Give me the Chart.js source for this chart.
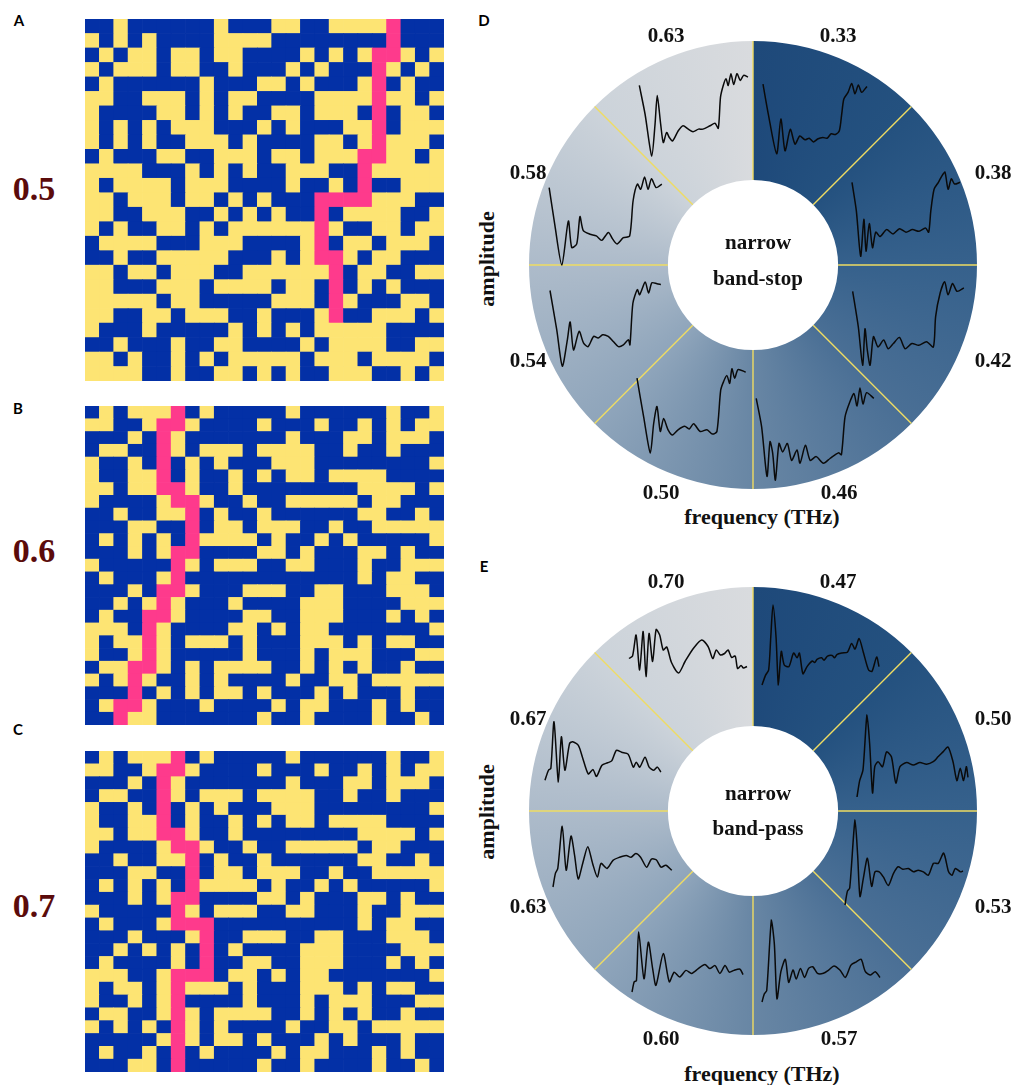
<!DOCTYPE html>
<html><head><meta charset="utf-8">
<script src="https://cdn.jsdelivr.net/npm/chart.js@4.4.1/dist/chart.umd.min.js"></script>
<style>
html,body{margin:0;padding:0;background:#fff}
body{position:relative;width:1013px;height:1085px;overflow:hidden}
canvas{position:absolute;display:block}
.t{position:absolute;white-space:nowrap;line-height:1;transform:translate(-50%,-50%)}
.serif{font-family:"Liberation Serif","Times New Roman",serif;font-weight:700}
.letter{font-family:Lato,"Open Sans",sans-serif;font-weight:700;font-size:15px;color:#000}
.big{font-size:34px;color:#5b0b0b}
.ax{font-size:22px;color:#111}
</style></head><body>
<script>
// ---------- DATA ----------
const gridA = [
"BBYBBBBBBYBBBYYBBYYYYPBBB","YBYBYBBBBYYYYBBBBBBBBPBBB","BYBYYBYYBYYBBBBYBYBYPPYBY",
"YBYYYBYYBBYBBBYBYBBBPYBYB","BYBBBBBBYBBBYYBYBBBYPBYBB","YYBBYYYBYBYYBBBBYYYYPYYBY",
"YBBBBYYBYBYBBYYBYYYBPBYYB","YBYBYBYYYBBBYBYBBBYYPBYYY","YBYBYBBYYYBYBBBBYYBYPYYYB",
"BYBBBYYBBYYYBYYBYYYPPYYBY","YYYYBBBYBYBYBBYYYBBPYYYYY","YBYYYYBYYYBBBBYBBYBPBBYYY",
"YYBYYYBYYBYBYBBBPPPPYYYBB","YYBBYYYBBYBYBYBBPBYYYYBBY","YBYBBYYBYBYYYYYYPYBBYYBYY",
"BYYYYBBBYYYBBBBYPBYYBYYYB","BBYBBYYYYYBBBYBYPPYBYYBBB","YYBYYBYYYBBYYYYYYPBYYBBYY",
"YYBBBYYYBYYYYBYYBPBYBYBBB","YYYYYBYYBBBBBYYYBPYBBBYYB","YYBBYYBYYYBBYBBBYPBBYYYBY",
"YBBBYBBBBBYBYBYBYYYYYBBBB","BBYBBBYBBYYBBBBYBYYYYBBYY","YYBYBBYBYBYYYYYBYYYBYYYYB",
"YYYYBBYBBYYBYBYBBYYYBBYBY"];
const gridB = [
"BYBYYYPBYBBBBBYBBBBBBYBBY","YYBBYPPYBBBBYBBBYBBYBYBYY","BBBYBPYBBBBBBBYBBBYYBYYYB",
"BYYBBPYBYYYBYYYYBBYBBYBBB","YBBYBPBYBYBBBYYYBBBBBBBBY","YBBYYPBYBBYBYBYYBYYYYBBBB",
"YYBYYPPYBBYBBBBBBBBYYYYBY","YBBBBYPPYBBYBBYYYYYBYYBBB","BBYBBYYPBYBBYBBBBBBYYBBYB",
"BBBYYBBPBYYBYYYBBYBBYYYYY","BYBYBYBPYYYYBYBBYBYBBBBBY","BBBYBYPPBBBBYYBYBBBYYBYBB",
"YBBBBBPYBYYYBBYYBBBYBBYYY","BYBBBYPBBBBBBBBBBBBYBYYBB","BBBYBPPYBBBYYYBBYYBBBYYYB",
"BBYBYPYBBBYBBBBYYYBBBBYYY","BYBBPPYBBBBYYBBYYYBBBYBYB","YYYBPYBBBBYYBYBYYBBBBBBBY",
"YBYYPYBYYYBYBBBYYYBYBYYBB","YBBYPYBBBBBYBBBYBYYYBBBYY","BYYPPYBYBYYYYBBYBYBYBBYBB",
"YBYPYBBYBYBBBBYBBYYBYYYYY","BBBPBYBYBYYBYBBBYBYBBBYBB","BYPPYBBBYBBBBYBYYBBBYBYBB",
"BBPYYBBBBBBBYBBYBBBBYBBYB"];
const gridC = [
"BYBYYYPBYBBBBBYBBBBBBYBBY","YYBBYPPYBBBBYBBBYBBYBYBYY","BBBYBPYBBBBBBBYBBBYYBYYYB",
"BYYBBPYBYYYBYYYYBBYBBYBBB","YBBYBPBYBYBBBYYYBBBBBBBBY","YBBYYPBYBBYBYBYYBYYYYBBBB",
"YYBYYPPYBBYBBBBBBBBYYYYBY","YBBBBYPPYBBYBBYYYYYBYYBBB","BBYBBYYPBYBBYBBBBBBYYBBYB",
"BBBYYBBPBYYBYYYBBYBBYYYYY","BYBYBYBPYYYYBYBBYBYBBBBBY","BBBYBYPPBBBBYYBYBBBYYBYBB",
"YBBBBBPYBYYYBBYYBBBYBBYYY","BYBBBYPPPBBBBBBBBBBYBYYBB","BBBYBBBYPBBYYYBBYYBBBYYYB",
"BBYBYBYBPBYBBBBYYYBBBBYYY","BYBBBBYBPBBYYBBYYYBBBYBYB","YYYBBYPPPBYYBYBYYBBBBBBBY",
"YBYYBYPYYYBYBBBYYYBYBYYBB","YBBYBYPBBBBYBBBYBYYYBBBYY","BYYBBYPYBYYYYBBYBYBYBBYBB",
"YBYBYBPYBYBBBBYBBYYBYYYYY","BBBBBYPYBYYBYBBBYBYBBBYBB","BYBBYBPBYBBBBYBYYBBBYBYBB",
"BBBYYBPBBBBBYBBYBBBBYBBYB"];
const gridValues = ['0.5','0.6','0.7'];

const stopFreqs = ['0.33','0.38','0.42','0.46','0.50','0.54','0.58','0.63'];
const passFreqs = ['0.47','0.50','0.53','0.57','0.60','0.63','0.67','0.70'];

// band-stop waveforms [frequency (0-100), amplitude (0-100)]
const stop033 = [[0,97],[5,57],[13,3],[17,50],[21,7],[26,36],[30.5,16],[35,27],[40,22],[44,24],[48,19],[52,23],[57,25],[61,24],[65,30],[69,29],[72.7,34],[75,57],[77,77],[81,86],[84.5,98],[87.6,84],[90.8,96],[94,86],[99,94]];
const stop038 = [[0,88],[4,55],[8,2],[11,45],[13,8],[16,40],[19,12],[22,30],[26,25],[32,33],[38,28],[44,34],[50,30],[56,33],[62,31],[68,35],[71,30],[73,55],[76,80],[80,88],[83,95],[86,100],[89,80],[92,92],[95,86],[100,88]];
const stop042 = [[0.6,87],[5.6,46],[9.4,2],[11.5,44],[13.5,20],[16,2],[19,35],[23,23],[28,31],[32,21],[36.6,27],[42,34],[47,21],[53,27],[59,25],[66,29],[72,23],[74,58],[78,85],[82,98],[85,83],[89,96],[93,87],[99,91]];
const stop046 = [[1,89],[5.5,59],[10,6],[12.5,43],[14.7,31],[17,2],[20,41],[23,32],[27,41],[30.5,23],[35,34],[37.5,20],[42,39],[46,23],[51,27],[57,20],[62.5,25],[69.5,31],[72,29],[75,69],[79,85],[82.5,94],[85,81],[87.5,100],[90,83],[93,95],[99,89]];
const stop050 = [[0,87],[6,42],[12,0],[15,34],[18,54],[21,25],[24,40],[28,27],[32,21],[37,27],[43,31],[47,28],[51,34],[57,25],[63,27],[68,22],[72,25],[75.4,73],[78,83],[81,90],[83.5,81],[85.5,98],[88,87],[91,97],[98,94]];
const stop054 = [[0,90],[6,44],[11,1],[15.5,32],[18,53],[21,20],[26,42],[30,28],[34,24],[39,36],[43,34],[47,38],[52,36],[56.5,30],[61,24],[65.5,26],[70,32],[71.4,26],[74,75],[78,91],[80,85],[85,100],[88,87],[91,99],[95.5,98],[99,97]];
const stop058 = [[1,88],[6,45],[12,0],[17.7,50],[20.6,20],[25,24],[27.8,55],[30.7,39],[36.5,35],[42,33],[46.7,28],[52.5,37],[56,30],[60,24],[65.5,31],[71,33],[74,73],[77.7,92],[80.6,86],[84,100],[87,86],[90,98],[94,88],[99,92]];
const stop063 = [[1.2,84],[6.4,50],[12.5,0],[15.5,38],[17.5,72],[20.6,38],[23,16],[26,28],[28.5,22],[31.5,18],[36.6,30],[41,36],[45.7,32],[50,29],[55,32],[59,32],[65.5,36],[70,39],[73,33],[75,70],[77.5,84],[80,92],[82,84],[84.5,98],[87,85],[90,98],[93,90],[96,96],[100,94]];

// band-pass waveforms
const pass047 = [[0,0],[3,12],[5.7,19],[7.5,60],[9.4,100],[12,60],[14,0],[16.5,42],[19,25],[23,23],[27,40],[30,34],[32,40],[35,14],[38.5,23],[43,30],[45,28],[47,32],[51,34],[53,31],[56,36],[60,37],[62,34],[64,38],[68.5,40],[73,41],[76.6,52],[79.5,45],[83,58],[86.6,41],[91,19],[94,17],[98,35],[100,23]];
const pass050 = [[0,0],[2.4,20],[5.4,33],[9,100],[11.4,65],[14,5],[16,37],[19,43],[23,37],[26.6,55],[31,49],[35,17],[38.7,37],[44.7,42],[50.7,39],[56.7,42],[62.7,40],[68.7,43],[73,49],[77.5,55],[82,61],[86.5,43],[90,20],[93,35],[96,20],[98.5,37],[100,24]];
const pass053 = [[0,0],[2,16],[4,20],[8.5,100],[10.7,59],[12.7,10],[15.5,31],[19,55],[22.6,22],[25.4,39],[29,39],[32.5,33],[36.7,23],[41,37],[45,45],[49,42],[53.7,43],[58,39],[62,41],[66.4,39],[70.6,35],[75,49],[79,49],[83.6,61],[87.8,39],[90.7,35],[93.5,43],[97.8,39],[100,40]];
const pass057 = [[0,0],[2,10],[4,14],[8,100],[10.5,70],[12.7,4],[16,37],[19.8,52],[22.6,24],[26.3,39],[29,28],[32.6,41],[36,30],[39.5,41],[43,43],[47,35],[52,35],[56.5,39],[61,44],[66,39],[70.6,30],[75.4,45],[80,49],[84,52],[87.6,37],[92,33],[96,37],[100,30]];
const pass060 = [[0,0],[2,17],[4,19],[6,100],[10.8,22],[14.7,83],[18.6,39],[21.6,11],[28.2,64],[33.6,17],[38,33],[43,25],[48.6,36],[53.7,31],[59.7,39],[65.7,46],[70,39],[74.8,44],[79.2,31],[83.8,44],[87.7,33],[91.8,36],[97.3,38],[100,29]];
const pass063 = [[0,0],[2,22],[4,30],[7.7,98],[11,27],[15,82],[18,51],[21,13],[25,40],[29,65],[33,38],[37,16],[40,38],[45,30],[50,43],[55.5,48],[61,51],[65,48],[69,54],[73,48],[78,32],[82,45],[86,44],[90,32],[94,35],[99,27]];
const pass067 = [[0,3],[3,19],[5,22],[7.7,97],[11.4,0],[14,73],[17,19],[21,62],[23.6,65],[28.5,59],[32,40],[37,13],[41,20],[44,9],[48.7,27],[53.5,31],[57,34],[61,51],[65.5,48],[71,45],[75.5,24],[78,32],[81,24],[85.5,40],[89,24],[93,19],[96,24],[99,16]];
const pass070 = [[0,39],[3,44],[6,86],[9,16],[12,93],[14.4,3],[17,89],[20,33],[23,97],[26,86],[29,56],[32,62],[36,31],[42,10],[47.5,33],[54.5,59],[61.6,76],[67,63],[71,39],[74,56],[77.5,46],[81,49],[84,56],[87,41],[90,44],[92,19],[95,25],[97,20],[100,23]];

const stopWaves = [stop033,stop038,stop042,stop046,stop050,stop054,stop058,stop063];
const passWaves = [pass047,pass050,pass053,pass057,pass060,pass063,pass067,pass070];

// ---------- LAYOUT / STYLE ----------
const CELL = {Y:'#fde473', B:'#0330a6', P:'#fe3a8c'};
const gridBoxes = [[85,19,359,362],[85,406,359,319],[85,751,359,321]];
const ringCenters = [[753,265],[753,811]];
const insetD = [[763,82,105,74],[852,172,108,86],[852,280,113,87],[755,388,120,94],[637,367,111,86],[550,282,112,85],[548,177,115,88],[638,72,110,84]];
const insetE = [[762,605,117,80],[857,715,111,82],[845,820,118,85],[762,920,118,82],[632,932,111,60],[553,825,120,62],[545,720,117,62],[629,628,118,50]];
const labelOffsets = [[85,-228],[240,-91],[240,97],[86,229],[-92,229],[-225,97],[-225,-91],[-87,-228]];

Chart.defaults.font.family = '"Liberation Serif","Times New Roman",serif';

function addText(cls, txt, x, y, extra) {
  const d = document.createElement('div');
  d.className = 't ' + cls; d.textContent = txt;
  d.style.left = x + 'px'; d.style.top = y + 'px';
  if (extra) d.style.transform = extra;
  document.body.appendChild(d);
}
function makeCanvas(x, y, w, h, z) {
  const c = document.createElement('canvas');
  c.width = w; c.height = h;
  c.style.left = x + 'px'; c.style.top = y + 'px';
  c.style.width = w + 'px'; c.style.height = h + 'px';
  c.style.zIndex = z || 1;
  document.body.appendChild(c);
  return c;
}
const baseOpts = {responsive:false, animation:false, events:[], devicePixelRatio:1,
  plugins:{legend:{display:false}, tooltip:{enabled:false}}};

// ---------- GRIDS ----------
function gridChart(box, rows) {
  const [x,y,w,h] = box;
  const cv = makeCanvas(x, y, w, h, 1);
  const cols = rows[0].split('').map((_, i) => String(i + 1));
  const datasets = [];
  for (let r = rows.length - 1; r >= 0; r--) {
    datasets.push({
      data: cols.map(() => 1),
      backgroundColor: rows[r].split('').map(c => CELL[c]),
      borderWidth: 0, barPercentage: 1, categoryPercentage: 1, stack: 's'
    });
  }
  new Chart(cv, {type:'bar', data:{labels: cols, datasets},
    options: Object.assign({}, baseOpts, {layout:{padding:0},
      scales:{x:{display:false, stacked:true}, y:{display:false, stacked:true, min:0, max:rows.length}}})});
}
gridChart(gridBoxes[0], gridA);
gridChart(gridBoxes[1], gridB);
gridChart(gridBoxes[2], gridC);

// ---------- RINGS ----------
const ringDecor = {
  id: 'ringDecor',
  afterDatasetsDraw(chart, args, opts) {
    const ctx = chart.ctx, meta = chart.getDatasetMeta(0);
    ctx.save();
    ctx.strokeStyle = '#efdc62'; ctx.lineWidth = 1.4;
    meta.data.forEach(arc => {
      const p = arc.getProps(['x','y','startAngle','innerRadius','outerRadius'], true);
      ctx.beginPath();
      ctx.moveTo(p.x + Math.cos(p.startAngle) * p.innerRadius, p.y + Math.sin(p.startAngle) * p.innerRadius);
      ctx.lineTo(p.x + Math.cos(p.startAngle) * p.outerRadius, p.y + Math.sin(p.startAngle) * p.outerRadius);
      ctx.stroke();
    });
    const a0 = meta.data[0];
    ctx.fillStyle = '#111';
    ctx.font = 'bold 21px "Liberation Serif"';
    ctx.textAlign = 'center'; ctx.textBaseline = 'middle';
    chart.data.labels.forEach((lab, i) => {
      const o = opts.offsets[i];
      ctx.fillText(lab, a0.x + o[0], a0.y + o[1]);
    });
    ctx.textBaseline = 'alphabetic';
    opts.center.forEach(([t, dy]) => ctx.fillText(t, a0.x + 5, a0.y + dy));
    ctx.restore();
  }
};
function ringFill(c) {
  const chart = c.chart, ca = chart.chartArea;
  if (!ca) return '#6f8dab';
  if (!chart.$grad) {
    const cx = (ca.left + ca.right) / 2, cy = (ca.top + ca.bottom) / 2;
    const g = chart.ctx.createConicGradient(-Math.PI / 2, cx, cy);
    g.addColorStop(0.00, '#1e497a');
    g.addColorStop(0.125, '#24517f');
    g.addColorStop(0.25, '#36618c');
    g.addColorStop(0.375, '#4a6f95');
    g.addColorStop(0.5, '#6886a4');
    g.addColorStop(0.625, '#8fa5bb');
    g.addColorStop(0.75, '#adbbca');
    g.addColorStop(0.875, '#ccd3da');
    g.addColorStop(1.0, '#d9dbde');
    chart.$grad = g;
  }
  return chart.$grad;
}
function ringChart(center, labels, centerText) {
  const W = 524, H = 500;
  const cv = makeCanvas(center[0] - W / 2, center[1] - H / 2, W, H, 1);
  new Chart(cv, {type:'doughnut', plugins:[ringDecor],
    data:{labels, datasets:[{data: labels.map(() => 1), backgroundColor: ringFill, borderWidth:0, hoverOffset:0}]},
    options: Object.assign({}, baseOpts, {radius:224, cutout:95, rotation:0, layout:{padding:0},
      plugins:{legend:{display:false}, tooltip:{enabled:false},
        ringDecor:{offsets: labelOffsets, center: centerText}}})});
}
ringChart(ringCenters[0], stopFreqs, [['narrow', -16], ['band-stop', 20]]);
ringChart(ringCenters[1], passFreqs, [['narrow', -11], ['band-pass', 24]]);

// ---------- INSET WAVEFORMS ----------
function waveChart(box, pts) {
  const [x,y,w,h] = box, pad = 3;
  const cv = makeCanvas(x - pad, y - pad, w + 2 * pad, h + 2 * pad, 3);
  new Chart(cv, {type:'scatter',
    data:{datasets:[{data: pts.map(p => ({x:p[0], y:p[1]})), showLine:true, borderColor:'#0a0a0a',
      borderWidth:1.5, pointRadius:0, tension:0.25, clip:false}]},
    options: Object.assign({}, baseOpts, {layout:{padding:pad},
      scales:{x:{type:'linear', min:0, max:100, display:false}, y:{type:'linear', min:0, max:100, display:false}}})});
}
stopWaves.forEach((w, i) => waveChart(insetD[i], w));
passWaves.forEach((w, i) => waveChart(insetE[i], w));

// ---------- TEXT ----------
addText('letter', 'A', 19, 20);
addText('letter', 'B', 18, 408);
addText('letter', 'C', 18, 729);
addText('letter', 'D', 484, 20);
addText('letter', 'E', 484, 566);
addText('serif big', gridValues[0], 34, 189);
addText('serif big', gridValues[1], 34, 551);
addText('serif big', gridValues[2], 34, 906);
addText('serif ax', 'amplitude', 487, 259, 'translate(-50%,-50%) rotate(-90deg)');
addText('serif ax', 'amplitude', 487, 812, 'translate(-50%,-50%) rotate(-90deg)');
addText('serif ax', 'frequency (THz)', 762, 517);
addText('serif ax', 'frequency (THz)', 762, 1074);
</script>
</body></html>
